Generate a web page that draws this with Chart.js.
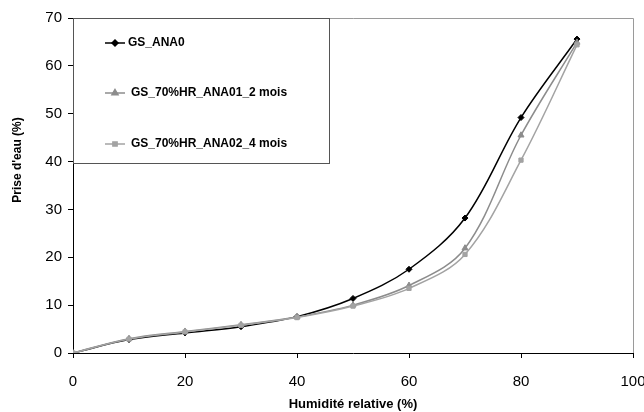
<!DOCTYPE html>
<html>
<head>
<meta charset="utf-8">
<script src="https://cdn.jsdelivr.net/npm/chart.js@4/dist/chart.umd.min.js"></script>
<style>
    html, body { margin: 0; padding: 0; background: #fff; }
    #wrap { width: 644px; height: 412px; position: relative; }
</style>
</head>
<body>
<div id="wrap"><canvas id="chart" width="644" height="412"></canvas></div>
<script>
// Humidité relative (%)
const humidity = [0, 10, 20, 30, 40, 50, 60, 70, 80, 90];

// Prise d'eau (%) par échantillon
const ana0 = [0, 2.8, 4.2, 5.5, 7.6, 11.4, 17.5, 28.2, 49.2, 65.6];
const ana01 = [0, 3.0, 4.5, 5.9, 7.5, 10.0, 14.1, 21.9, 45.5, 64.9];
const ana02 = [0, 2.9, 4.4, 5.8, 7.4, 9.8, 13.5, 20.6, 40.3, 64.4];

const seriesNames = ['GS_ANA0', 'GS_70%HR_ANA01_2 mois', 'GS_70%HR_ANA02_4 mois'];
const xTicks = [0, 20, 40, 60, 80, 100];
const yTicks = [0, 10, 20, 30, 40, 50, 60, 70];

const FONT = '"Liberation Sans", Arial, sans-serif';

function toPoints(values) {
    return humidity.map((h, i) => ({ x: h, y: values[i] }));
}

// Cadre gris haut/droite de la zone de tracé
const frame = {
    id: 'frame',
    beforeDatasetsDraw(chart) {
        const { ctx, chartArea: a } = chart;
        ctx.save();
        ctx.strokeStyle = '#9a9a9a';
        ctx.lineWidth = 1;
        ctx.beginPath();
        ctx.moveTo(a.left, a.top + 0.5);
        ctx.lineTo(a.right + 0.5, a.top + 0.5);
        ctx.lineTo(a.right + 0.5, a.bottom);
        ctx.stroke();
        ctx.restore();
    }
};

// Légende encadrée dans le coin haut gauche
const boxLegend = {
    id: 'boxLegend',
    afterDatasetsDraw(chart) {
        const { ctx, chartArea: a } = chart;
        const x0 = a.left, y0 = a.top, w = 256, h = 145;
        const rows = [43, 93, 144];
        ctx.save();
        ctx.fillStyle = '#fff';
        ctx.fillRect(x0, y0, w, h);
        ctx.strokeStyle = '#555';
        ctx.lineWidth = 1;
        ctx.strokeRect(x0 + 0.5, y0 + 0.5, w, h);

        seriesNames.forEach((name, i) => {
            const ds = chart.data.datasets.find(d => d.label === name);
            const y = rows[i];
            ctx.strokeStyle = ds.borderColor;
            ctx.lineWidth = 1.5;
            ctx.beginPath();
            ctx.moveTo(105, y);
            ctx.lineTo(125, y);
            ctx.stroke();
            ctx.fillStyle = ds.borderColor;
            Chart.helpers.drawPoint(ctx, {
                pointStyle: ds.pointStyle,
                radius: ds.pointRadius,
                rotation: 0,
                borderWidth: 1
            }, 115, y);

            ctx.fillStyle = '#000';
            ctx.font = 'bold 12px ' + FONT;
            ctx.textBaseline = 'middle';
            ctx.textAlign = 'left';
            ctx.fillText(name, i === 0 ? 128 : 131, y);
        });
        ctx.restore();
    }
};

// Titre de l'axe Y placé comme dans l'original
const yTitle = {
    id: 'yTitle',
    afterDraw(chart) {
        const { ctx } = chart;
        ctx.save();
        ctx.translate(18, 160);
        ctx.rotate(-Math.PI / 2);
        ctx.font = 'bold 12px ' + FONT;
        ctx.fillStyle = '#000';
        ctx.textAlign = 'center';
        ctx.textBaseline = 'middle';
        ctx.fillText("Prise d'eau (%)", 0, 0);
        ctx.restore();
    }
};

const colors = ['#000000', '#8c8c8c', '#a3a3a3'];
const styles = ['rectRot', 'triangle', 'rect'];
const radii = [3, 3.5, 3];

// ANA0 dessinée en dernier (au-dessus)
const datasets = [ana0, ana01, ana02].map((vals, i) => ({
    label: seriesNames[i],
    data: toPoints(vals),
    borderColor: colors[i],
    backgroundColor: colors[i],
    borderWidth: 1.5,
    pointStyle: styles[i],
    pointRadius: radii[i],
    pointBorderWidth: 1,
    tension: 0.35
})).reverse();

new Chart(document.getElementById('chart'), {
    type: 'line',
    data: { datasets },
    options: {
        responsive: false,
        animation: false,
        layout: { padding: { top: 18, right: 11, left: 0, bottom: 0 } },
        plugins: {
            legend: { display: false },
            tooltip: { enabled: false }
        },
        scales: {
            x: {
                type: 'linear',
                min: 0,
                max: 100,
                afterBuildTicks(scale) { scale.ticks = xTicks.map(v => ({ value: v })); },
                afterFit(scale) {
                    scale.height = 59;
                    scale.paddingLeft = 0;
                    scale.paddingRight = 0;
                },
                grid: { drawOnChartArea: false, tickLength: 5, color: '#000' },
                border: { color: '#000', width: 1 },
                ticks: { color: '#000', padding: 15, font: { family: FONT, size: 15 } },
                title: {
                    display: true,
                    text: 'Humidité relative (%)',
                    color: '#000',
                    font: { family: FONT, size: 13, weight: 'bold' },
                    padding: { top: 4, bottom: 0 }
                }
            },
            y: {
                min: 0,
                max: 70,
                afterBuildTicks(scale) { scale.ticks = yTicks.map(v => ({ value: v })); },
                afterFit(scale) {
                    scale.width = 73;
                    scale.paddingTop = 0;
                    scale.paddingBottom = 0;
                },
                grid: { drawOnChartArea: false, tickLength: 5, color: '#000' },
                border: { color: '#000', width: 1 },
                ticks: { color: '#000', padding: 6, font: { family: FONT, size: 15 } }
            }
        }
    },
    plugins: [frame, boxLegend, yTitle]
});
</script>
</body>
</html>
